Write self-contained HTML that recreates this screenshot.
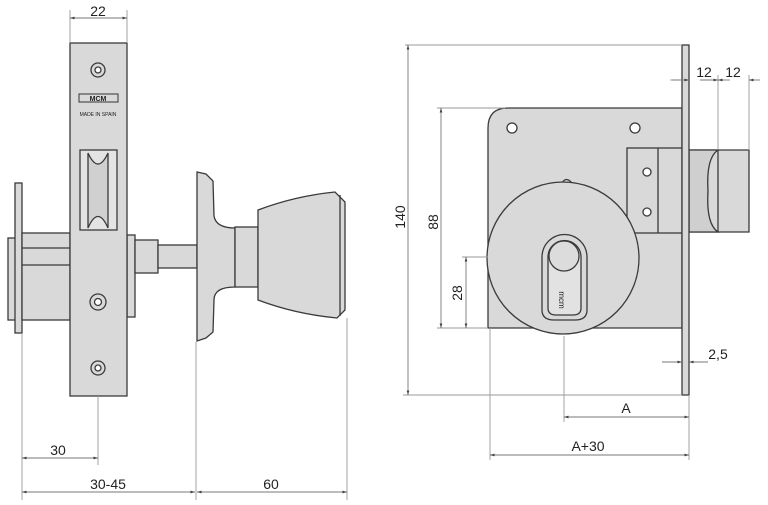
<!DOCTYPE html>
<html><head><meta charset="utf-8"><style>
html,body{margin:0;padding:0;background:#fff;width:768px;height:505px;overflow:hidden}
svg{display:block}
text{font-family:"Liberation Sans",sans-serif;font-size:14px;fill:#222}
</style></head><body>
<svg width="768" height="505" viewBox="0 0 768 505" xmlns="http://www.w3.org/2000/svg">
<defs>
<marker id="a" viewBox="0 0 10 10" refX="10" refY="5" markerWidth="7" markerHeight="5" orient="auto-start-reverse"><path d="M0,2 L10,5 L0,8z" fill="#444"/></marker>
</defs>
<g fill="#d9d9d9" stroke="#3a3a3a" stroke-width="1.3">
<!-- LEFT VIEW -->
<rect x="8" y="238" width="8" height="82"/>
<rect x="15" y="183" width="7" height="150"/>
<rect x="22" y="233" width="48" height="87"/>
<line x1="22" y1="248" x2="70" y2="248"/><line x1="22" y1="265" x2="70" y2="265"/>
<rect x="127" y="235" width="8" height="82"/>
<rect x="135" y="240" width="23" height="33"/>
<rect x="158" y="245" width="39" height="23"/>
<rect x="70" y="43" width="57" height="353"/>
<rect x="80" y="150" width="37" height="80" fill="#e4e4e4"/>
<path d="M88,153 Q98,175 108,153 L108,228 Q98,205 88,228Z" fill="#d0d0d0"/>
<path d="M197,172 L206,174 L213,181 L214,216 Q216,228 235,228 L235,287 Q214,287 214,300 L213,332 L206,338 L197,341Z"/>
<rect x="235" y="227" width="23" height="60"/>
<path d="M258,210 Q295,196 335,192 L345,202 L345,310 L337,318 Q295,314 258,300Z"/>
<line x1="340" y1="195" x2="340" y2="316"/>
<!-- RIGHT VIEW -->
<path d="M508,108 L682,108 L682,328 L488,328 L488,128 Q488,108 508,108Z"/>
<rect x="627" y="148" width="55" height="85"/>
<line x1="658" y1="148" x2="658" y2="233"/>
<path d="M689,150 L749,150 L749,232 L689,232Z"/>
<path d="M689,150 L718,150 Q706,158 708,191 Q706,224 718,232 L689,232Z" fill="#cfcfcf"/>
<line x1="718" y1="150" x2="718" y2="232"/>
<rect x="682" y="45" width="7" height="350"/>
<path d="M562,183 Q566,176 572,183"/>
<circle cx="563" cy="258" r="76"/>
<path d="M542,257 A22,22 0 1 1 587,257 L587,310 Q587,320 575,320 L554,320 Q542,320 542,310Z" fill="#d9d9d9"/>
<path d="M548,257 A16,16 0 1 1 581,257 L581,308 Q581,315 573,315 L556,315 Q548,315 548,308Z" fill="#e2e2e2"/>
<circle cx="564" cy="256" r="15" fill="#dcdcdc"/>
</g>
<!-- screw holes -->
<g fill="#fff" stroke="#3a3a3a" stroke-width="1.3">
<circle cx="98" cy="70" r="7" fill="#d9d9d9"/><circle cx="98" cy="70" r="3"/>
<circle cx="98" cy="302" r="8" fill="#d9d9d9"/><circle cx="98" cy="302" r="3.5"/>
<circle cx="98" cy="368" r="7" fill="#d9d9d9"/><circle cx="98" cy="368" r="3"/>
<circle cx="512" cy="128" r="5"/><circle cx="635" cy="128" r="5"/>
<circle cx="647" cy="172" r="4"/><circle cx="647" cy="212" r="4"/>
</g>
<rect x="79" y="94" width="39" height="8" fill="none" stroke="#333"/>
<text x="98" y="101" text-anchor="middle" style="font-size:7px;font-weight:bold">MCM</text>
<text x="98" y="116" text-anchor="middle" style="font-size:5px">MADE IN SPAIN</text>
<text x="564" y="305" text-anchor="middle" transform="rotate(90 564 300)" style="font-size:8px">mcm</text>
<!-- dimension lines -->
<g stroke="#999" stroke-width="0.9" fill="none">
<line x1="70" y1="10" x2="70" y2="43"/><line x1="127" y1="10" x2="127" y2="43"/>
<line x1="22" y1="333" x2="22" y2="500"/><line x1="98" y1="396" x2="98" y2="465"/>
<line x1="196" y1="342" x2="196" y2="500"/><line x1="347" y1="318" x2="347" y2="500"/>
<line x1="405" y1="45" x2="682" y2="45"/><line x1="403" y1="395" x2="682" y2="395"/>
<line x1="437" y1="108" x2="505" y2="108"/><line x1="437" y1="328" x2="488" y2="328"/>
<line x1="462" y1="257" x2="488" y2="257"/>
<line x1="490" y1="328" x2="490" y2="460"/><line x1="564" y1="336" x2="564" y2="422"/>
<line x1="689" y1="395" x2="689" y2="460"/>
<line x1="718" y1="75" x2="718" y2="150"/><line x1="749" y1="75" x2="749" y2="150"/>
<line x1="670" y1="80" x2="682" y2="80"/>
</g>
<g stroke="#777" stroke-width="0.9" fill="none" marker-start="url(#a)" marker-end="url(#a)">
<line x1="70" y1="18" x2="127" y2="18"/>
<line x1="22" y1="458" x2="98" y2="458"/>
<line x1="22" y1="492" x2="195" y2="492"/>
<line x1="197" y1="492" x2="347" y2="492"/>
<line x1="408" y1="45" x2="408" y2="395"/>
<line x1="441" y1="108" x2="441" y2="328"/>
<line x1="466" y1="257" x2="466" y2="328"/>
<line x1="564" y1="417" x2="689" y2="417"/>
<line x1="490" y1="455" x2="689" y2="455"/>
</g>
<g stroke="#777" stroke-width="0.9" fill="none">
<line x1="672" y1="80" x2="689" y2="80" marker-end="url(#a)"/>
<line x1="700" y1="80" x2="718" y2="80" marker-end="url(#a)"/>
<line x1="718" y1="80" x2="730" y2="80" marker-start="url(#a)"/>
<line x1="749" y1="80" x2="760" y2="80" marker-start="url(#a)"/>
<line x1="662" y1="362" x2="682" y2="362" marker-end="url(#a)"/>
<line x1="689" y1="362" x2="708" y2="362" marker-start="url(#a)"/>
</g>
<text x="98" y="16" text-anchor="middle">22</text>
<text x="58" y="455" text-anchor="middle">30</text>
<text x="108" y="489" text-anchor="middle">30-45</text>
<text x="271" y="489" text-anchor="middle">60</text>
<text x="405" y="217" text-anchor="middle" transform="rotate(-90 405 217)">140</text>
<text x="438" y="222" text-anchor="middle" transform="rotate(-90 438 222)">88</text>
<text x="462" y="293" text-anchor="middle" transform="rotate(-90 462 293)">28</text>
<text x="704" y="77" text-anchor="middle">12</text>
<text x="733" y="77" text-anchor="middle">12</text>
<text x="718" y="359" text-anchor="middle">2,5</text>
<text x="626" y="413" text-anchor="middle">A</text>
<text x="588" y="451" text-anchor="middle">A+30</text>
</svg>
</body></html>
